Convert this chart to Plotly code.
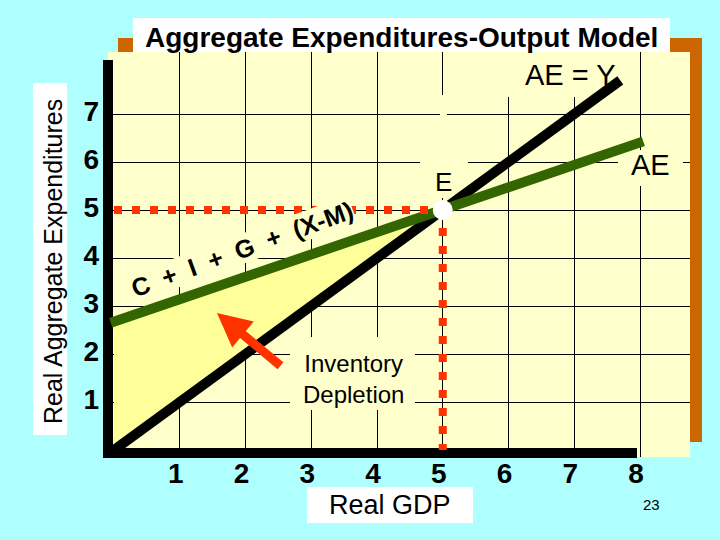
import plotly.graph_objects as go

# ---------------- data ----------------
gdp_ticks = [1, 2, 3, 4, 5, 6, 7, 8]
ae_ticks = [1, 2, 3, 4, 5, 6, 7]

line45_gdp = [0, 7.7]          # AE = Y
line45_ae = [0, 7.7]

ae_gdp = [-0.05, 5, 8.05]      # C + I + G + (X-M)
ae_val = [2.65, 5.0, 6.43]

eq_gdp = [5]                   # equilibrium E
eq_ae = [5]

gap_gdp = [0, 0, 5]            # inventory depletion region
gap_ae = [0, 2.65, 5]

# ---------------- layout helpers ----------------
W, H = 720, 540
L, R, T, B = 108, 30, 52, 83
PW, PH = W - L - R, H - T - B
X0, XS = 114, 65.75   # pixel of x=0, px per unit
Y0, YS = 450, 48      # pixel of y=0, px per unit


def fx(p):
    return (p - L) / PW


def fy(p):
    return (H - B - p) / PH


def dx(p):
    return (p - X0) / XS


def dy(p):
    return (Y0 - p) / YS


CYAN = "#B0FFFF"
CREAM = "#FFFFCC"
YELLOW = "#FFFF99"
ORANGE = "#CC6600"
GREEN = "#336600"
RED = "#FF3300"
FONT = "Liberation Sans, Arial, sans-serif"

fig = go.Figure()

fig.add_trace(go.Scatter(x=gap_gdp, y=gap_ae, fill="toself", fillcolor=YELLOW,
                         mode="none", hoverinfo="skip", showlegend=False))
fig.add_trace(go.Scatter(x=line45_gdp, y=line45_ae, mode="lines",
                         line=dict(color="black", width=10), showlegend=False))
fig.add_trace(go.Scatter(x=ae_gdp, y=ae_val, mode="lines",
                         line=dict(color=GREEN, width=10), showlegend=False))
fig.add_trace(go.Scatter(x=[0, eq_gdp[0]], y=[eq_ae[0], eq_ae[0]], mode="lines",
                         line=dict(color=RED, width=8, dash="8px,10px"), showlegend=False))
fig.add_trace(go.Scatter(x=[eq_gdp[0], eq_gdp[0]], y=[eq_ae[0], 0], mode="lines",
                         line=dict(color=RED, width=8, dash="8px,10px"), showlegend=False))
fig.add_trace(go.Scatter(x=eq_gdp, y=eq_ae, mode="markers",
                         marker=dict(color="white", size=20, line=dict(width=0)),
                         showlegend=False))

shapes = []
# orange shadow, cream board, title box, axis-title boxes
shapes.append(dict(type="rect", xref="paper", yref="paper", x0=fx(118), x1=fx(702),
                   y0=fy(442), y1=fy(38), fillcolor=ORANGE, line_width=0, layer="below"))
shapes.append(dict(type="rect", xref="paper", yref="paper", x0=fx(108), x1=fx(690),
                   y0=fy(457), y1=fy(52), fillcolor=CREAM, line_width=0, layer="below"))
shapes.append(dict(type="rect", xref="paper", yref="paper", x0=fx(133), x1=fx(670),
                   y0=fy(52), y1=fy(18), fillcolor="white", line_width=0, layer="below"))
shapes.append(dict(type="rect", xref="paper", yref="paper", x0=fx(33), x1=fx(67),
                   y0=fy(435), y1=fy(83), fillcolor="white", line_width=0, layer="below"))
shapes.append(dict(type="rect", xref="paper", yref="paper", x0=fx(307), x1=fx(473),
                   y0=fy(523), y1=fy(487), fillcolor="white", line_width=0, layer="below"))
# cream boxes that hide grid behind labels
for (a, b, c, d) in [(503, 635, 52, 97), (618, 683, 150, 186), (420, 468, 150, 198),
                     (440, 447, 95, 150), (290, 415, 337, 410)]:
    shapes.append(dict(type="rect", xref="x", yref="y", x0=dx(a), x1=dx(b),
                       y0=dy(d), y1=dy(c), fillcolor=CREAM, line_width=0, layer="between"))
# thick black axes
shapes.append(dict(type="rect", xref="paper", yref="paper", x0=fx(103), x1=fx(113),
                   y0=fy(458), y1=fy(60), fillcolor="black", line_width=0, layer="between"))
shapes.append(dict(type="rect", xref="paper", yref="paper", x0=fx(103), x1=fx(637),
                   y0=fy(458), y1=fy(448), fillcolor="black", line_width=0, layer="between"))

C = dict(xanchor="center", yanchor="middle", showarrow=False)
ann = []
ann.append(dict(text="<b>Aggregate Expenditures-Output Model</b>", xref="paper", yref="paper",
                x=fx(401), y=fy(37), font=dict(size=28, color="black"), **C))
ann.append(dict(text="Real Aggregate Expenditures", xref="paper", yref="paper",
                x=fx(53), y=fy(262), textangle=-90, font=dict(size=25, color="black"), **C))
ann.append(dict(text="Real GDP", xref="paper", yref="paper", x=fx(390), y=fy(505),
                font=dict(size=27, color="black"), **C))
ann.append(dict(text="23", xref="paper", yref="paper", x=fx(651), y=fy(504),
                font=dict(size=15, color="black"), **C))
ann.append(dict(text="AE = Y", x=dx(570), y=dy(75), font=dict(size=29, color="black"), **C))
ann.append(dict(text="AE", x=dx(650), y=dy(165), font=dict(size=29, color="black"), **C))
ann.append(dict(text="E", x=dx(443), y=dy(182), font=dict(size=26, color="black"), **C))
ann.append(dict(text="Inventory<br>Depletion", x=dx(353), y=dy(379),
                font=dict(size=24, color="black"), **C))
s = "\u00a0 "
ann.append(dict(text="<b>C" + s + "+" + s + "I" + s + "+" + s + "G" + s + "+" + s + "(X-M)</b>",
                x=dx(242), y=dy(249), textangle=-20, bgcolor=CREAM,
                borderpad=0, font=dict(size=25, color="black"), **C))
# arrow
ann.append(dict(text="", x=dx(217), y=dy(313), ax=dx(282), ay=dy(367), axref="x", ayref="y",
                showarrow=True, arrowhead=2, arrowsize=0.75, arrowwidth=9, arrowcolor=RED,
                standoff=0, startstandoff=0))

fig.update_layout(
    width=W, height=H, margin=dict(l=L, r=R, t=T, b=B),
    paper_bgcolor=CYAN, plot_bgcolor="rgba(0,0,0,0)",
    font=dict(family=FONT, color="black"),
    shapes=shapes, annotations=ann, showlegend=False,
    xaxis=dict(range=[dx(L), dx(W - R)], tickvals=gdp_ticks,
               ticktext=["<b>%d</b>" % v for v in gdp_ticks],
               showgrid=True, gridcolor="black", gridwidth=1, zeroline=False, showline=False,
               ticks="", tickfont=dict(size=28, color="black"), ticklabelstandoff=-3,
               ticklabelshift=-4, fixedrange=True),
    yaxis=dict(range=[dy(H - B), dy(T)], tickvals=ae_ticks,
               ticktext=["<b>%d</b>" % v for v in ae_ticks],
               showgrid=True, gridcolor="black", gridwidth=1, zeroline=False, showline=False,
               ticks="", tickfont=dict(size=28, color="black"), ticklabelstandoff=8,
               ticklabelshift=-3, fixedrange=True),
)

fig.write_html("out.html", config={"displayModeBar": False},
               post_script="document.body.style.margin='0';document.body.style.overflow='hidden';")
